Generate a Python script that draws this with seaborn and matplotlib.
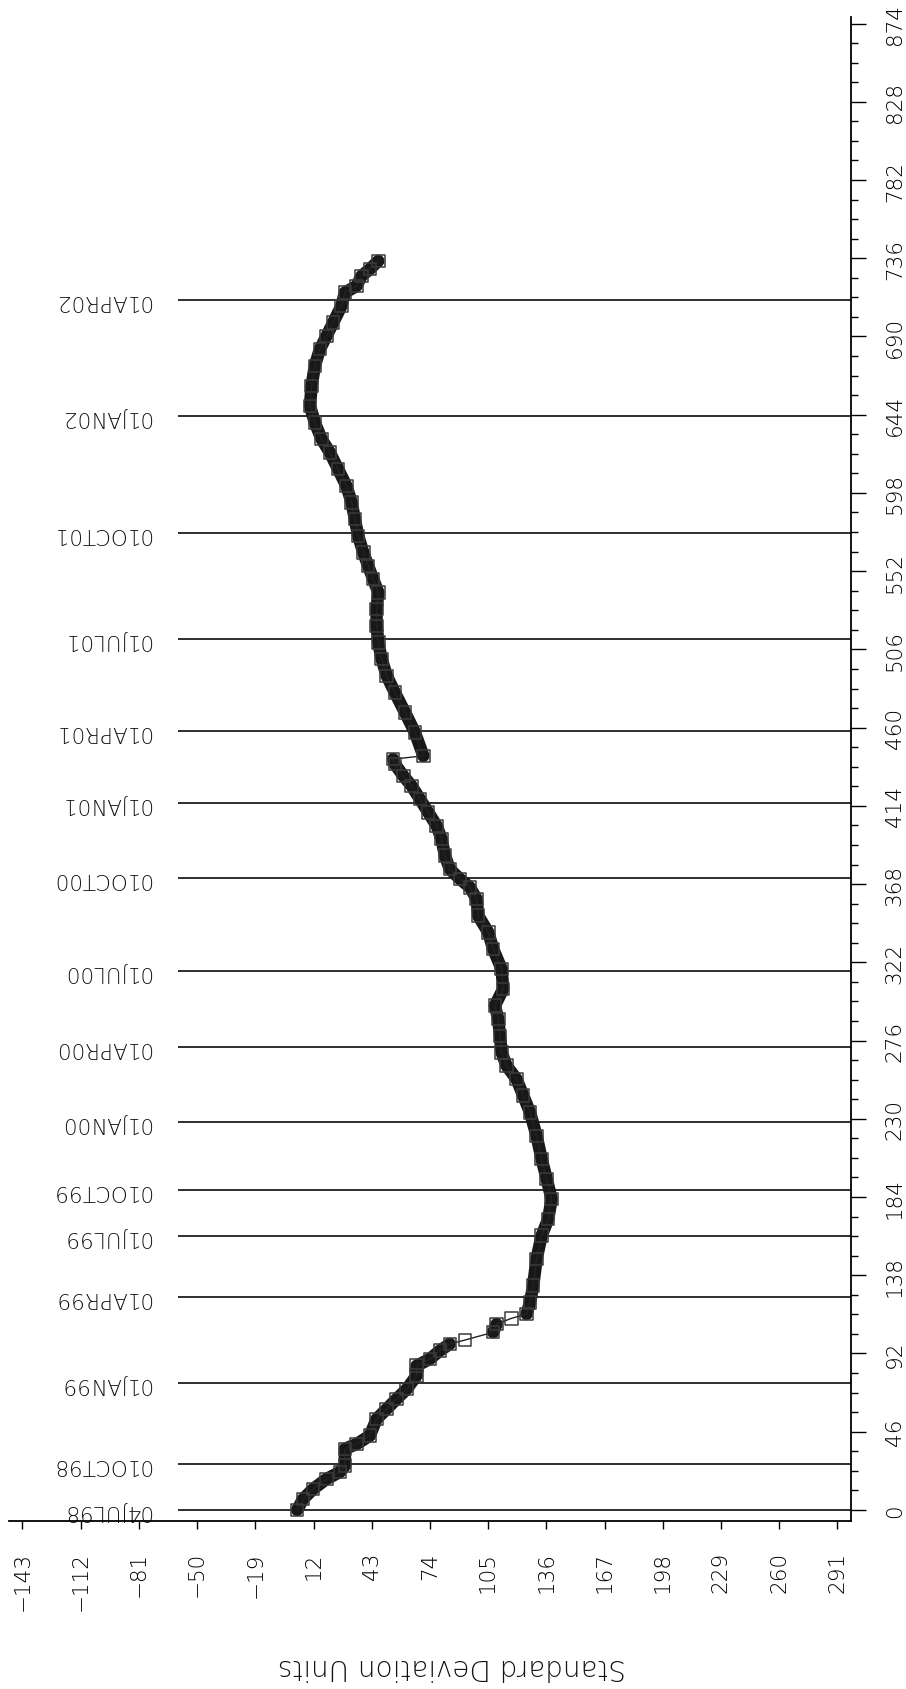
import numpy as np
import pandas as pd
import matplotlib
matplotlib.use("Agg")
import matplotlib.pyplot as plt
from matplotlib import font_manager
from matplotlib.ticker import MultipleLocator
import seaborn as sns

# Observation number along the series and its value in standard deviation units
obs_index = [0.0, 6.5, 12.3, 18.2, 22.3, 26.0, 35.9, 38.8, 43.7, 53.5,
             59.4, 65.3, 71.0, 79.0, 84.8, 88.8, 93.7, 97.6, 99.9, 104.5,
             109.3, 112.7, 115.2, 122.0, 131.9, 147.6, 161.3, 171.1, 182.8, 194.6,
             206.3, 220.0, 233.8, 243.6, 253.4, 261.2, 269.0, 278.8, 288.7, 296.5,
             306.3, 318.0, 329.8, 339.6, 349.4, 359.2, 366.1, 371.0, 376.8, 384.7,
             394.5, 402.3, 410.2, 418.0, 425.8, 431.7, 438.6, 441.5, 443.4, 457.2,
             469.0, 480.7, 490.5, 500.3, 510.1, 519.9, 529.7, 539.5, 547.3, 555.1,
             563.0, 572.8, 582.6, 592.4, 602.2, 612.0, 621.8, 629.6, 639.4, 649.2,
             661.0, 672.7, 682.5, 690.4, 698.2, 708.0, 715.8, 719.7, 725.6, 729.6,
             734.4]
sd_units = [3.3, 6.5, 11.8, 18.9, 26.0, 28.7, 28.7, 35.0, 42.0, 45.6,
            51.0, 56.3, 61.6, 66.9, 66.9, 74.0, 79.3, 84.6, 92.6, 107.7,
            109.5, 117.5, 125.5, 127.3, 129.0, 130.8, 133.5, 137.0, 138.8, 136.2,
            133.5, 130.8, 127.3, 123.7, 120.1, 114.8, 112.2, 111.3, 110.4, 108.6,
            113.0, 112.2, 107.7, 105.1, 99.7, 98.9, 95.3, 90.0, 84.6, 82.0,
            80.2, 77.6, 73.1, 68.7, 64.2, 59.8, 55.3, 54.4, 70.5, 66.0,
            60.7, 55.3, 51.0, 48.3, 46.5, 45.6, 45.6, 46.5, 43.8, 41.1,
            38.5, 35.8, 34.0, 32.3, 29.5, 25.1, 20.7, 16.3, 12.7, 10.1,
            11.0, 12.7, 15.4, 19.0, 22.5, 26.9, 28.7, 34.9, 37.6, 42.0,
            46.5]

# Calendar reference dates and the observation number where each falls
event_labels = ["04JUL98", "01OCT98", "01JAN99", "01APR99", "01JUL99", "01OCT99",
                "01JAN00", "01APR00", "01JUL00", "01OCT00", "01JAN01", "01APR01",
                "01JUL01", "01OCT01", "01JAN02", "01APR02"]
event_index = [0.0, 27.0, 74.7, 125.0, 161.3, 188.1, 228.0, 272.0, 317.0, 371.4,
               415.4, 458.2, 512.0, 574.2, 643.3, 711.3]

x_ticks = list(range(-143, 292, 31))
y_ticks = list(range(0, 875, 46))


def light_family():
    wanted = ["DejaVu Sans", "Roboto", "Lato", "Open Sans", "Noto Sans", "Inter"]
    for fam in wanted:
        for f in font_manager.fontManager.ttflist:
            if f.name != fam:
                continue
            w = f.weight
            if isinstance(w, str):
                w = font_manager.weight_dict.get(w, 400)
            if w <= 300 and f.style == "normal":
                return fam
    return "DejaVu Sans"


sns.set_theme(style="white")
fam = light_family()
plt.rcParams["font.family"] = [fam, "DejaVu Sans"]
plt.rcParams["font.weight"] = "light"
plt.rcParams["axes.unicode_minus"] = True

fig = plt.figure(figsize=(9.06, 16.90), dpi=100)
ax = fig.add_axes([0.0103, 0.0996, 0.9295, 0.8896])

xmin, xmax = -150.0, 298.5
ax.set_xlim(xmin, xmax)
ax.set_ylim(-6.3, 877.7)

# Quarter reference lines with upside-down date labels
ax.hlines(event_index, -60.0, xmax, colors="#1e1e1e", linewidth=1.3, zorder=1)
for lab, yi in zip(event_labels, event_index):
    ax.text(-74.6, yi, lab, rotation=180, ha="right", va="center",
            fontsize=15.5, color="#111111", zorder=2)

# Series: dense stretches drawn as a thick band, plus a thin connecting line and square markers
df = pd.DataFrame({"idx": obs_index, "sd": sd_units})
df["run"] = (df["sd"].diff().abs() > 7.5).cumsum()

sns.lineplot(data=df, x="sd", y="idx", units="run", estimator=None, sort=False,
             color="#181818", linewidth=9.0, solid_capstyle="round",
             solid_joinstyle="round", legend=False, ax=ax, zorder=3)
sns.lineplot(data=df, x="sd", y="idx", estimator=None, sort=False,
             color="#222222", linewidth=1.0, legend=False, ax=ax, zorder=4)
sns.scatterplot(data=df, x="sd", y="idx", marker="s", s=81, color="#2a2a2a",
                linewidth=1.1, legend=False, ax=ax, zorder=5)
ax.collections[-1].set_facecolor("none")
ax.collections[-1].set_edgecolor("#3a3a3a")

# Axes: bottom and right only
for side in ["top", "left"]:
    ax.spines[side].set_visible(False)
for side in ["bottom", "right"]:
    ax.spines[side].set_visible(True)
    ax.spines[side].set_color("black")
    ax.spines[side].set_linewidth(1.3)

ax.yaxis.tick_right()
ax.set_xticks(x_ticks, labels=[str(v).replace("-", "\u2212") for v in x_ticks])
ax.set_yticks(y_ticks, labels=[str(v) for v in y_ticks])
ax.yaxis.set_minor_locator(MultipleLocator(11.5))

ax.tick_params(axis="x", which="major", direction="out", length=6, width=1.0,
               pad=16, labelsize=15.5, labelrotation=90, colors="black",
               bottom=True, top=False)
ax.tick_params(axis="y", which="major", direction="out", length=11, width=1.0,
               pad=13, labelsize=15.5, labelrotation=90, colors="black",
               right=True, left=False)
ax.tick_params(axis="y", which="minor", direction="out", length=5, width=1.0,
               right=True, left=False, colors="black")
for lab in ax.get_yticklabels():
    lab.set_va("center")
    lab.set_ha("left")

ax.set_xlabel("")
ax.set_ylabel("")
ax.grid(False)

fig.text(452 / 906, 1 - 1667 / 1690, "Standard Deviation Units", rotation=180,
         ha="center", va="center", fontsize=20, color="#111111")

fig.savefig("out.png", dpi=100)
